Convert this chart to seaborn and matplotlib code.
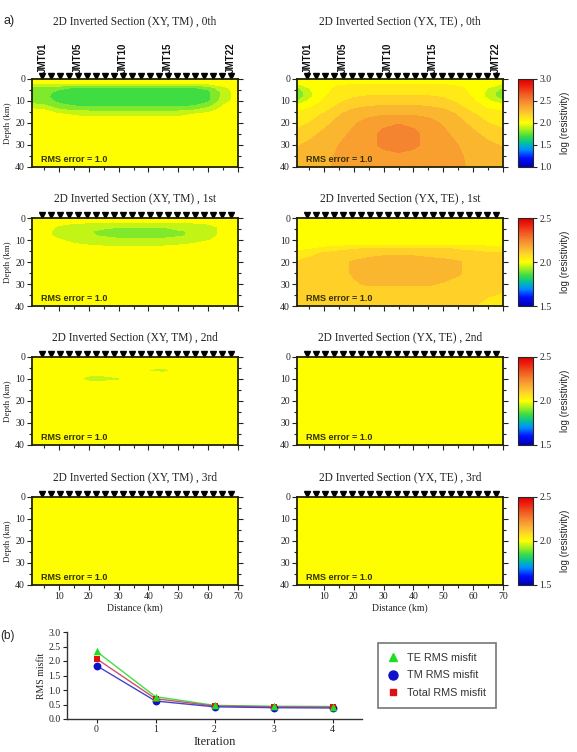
import numpy as np
import matplotlib
matplotlib.use("Agg")
import matplotlib.pyplot as plt
import seaborn as sns
from matplotlib.colors import LinearSegmentedColormap, Normalize
from matplotlib.cm import ScalarMappable
from matplotlib.lines import Line2D

sns.set_style("ticks")
plt.rcParams['font.family'] = ['Liberation Serif', 'DejaVu Serif']
SANS = ['Liberation Sans', 'DejaVu Sans']

# ---------------- data ----------------
dist_km = [1, 5, 10, 15, 20, 25, 30, 35, 40, 45, 50, 55, 60, 65, 70]
depth_km = [0, 2, 4, 6, 8, 10, 12, 14, 16, 20, 25, 30, 35, 40]

stations_km = [4.5, 7.5, 10.5, 13.5, 16.5, 19.5, 22.5, 25.5, 28.5, 31.5, 34.5,
               37.5, 40.5, 43.5, 46.5, 49.5, 52.5, 55.5, 58.5, 61.5, 64.5, 67.5]
station_names = {0: 'JMT01', 4: 'JMT05', 9: 'JMT10', 14: 'JMT15', 21: 'JMT22'}

# log10 resistivity read from the sections (rows = depth_km, cols = dist_km)
tm_0th = [
    [2.0, 2.0, 2.0, 2.0, 2.0, 2.0, 2.0, 2.0, 2.0, 2.0, 2.0, 2.0, 2.0, 2.0, 2.0],
    [1.97, 1.96, 1.96, 1.95, 1.95, 1.95, 1.95, 1.95, 1.95, 1.95, 1.95, 1.96, 1.97, 2.0, 2.0],
    [1.8, 1.8, 1.78, 1.74, 1.72, 1.72, 1.72, 1.72, 1.72, 1.72, 1.72, 1.74, 1.78, 1.92, 2.0],
    [1.78, 1.78, 1.72, 1.68, 1.67, 1.67, 1.67, 1.67, 1.67, 1.67, 1.67, 1.68, 1.72, 1.88, 2.0],
    [1.78, 1.78, 1.7, 1.67, 1.66, 1.66, 1.66, 1.66, 1.66, 1.66, 1.66, 1.67, 1.72, 1.88, 2.0],
    [1.8, 1.8, 1.72, 1.68, 1.67, 1.67, 1.67, 1.67, 1.67, 1.67, 1.67, 1.68, 1.73, 1.9, 2.0],
    [1.88, 1.86, 1.78, 1.74, 1.72, 1.72, 1.72, 1.72, 1.72, 1.72, 1.72, 1.74, 1.8, 1.95, 2.0],
    [1.97, 1.95, 1.86, 1.83, 1.82, 1.82, 1.82, 1.82, 1.82, 1.82, 1.82, 1.84, 1.9, 1.98, 2.0],
    [2.0, 2.0, 1.96, 1.94, 1.93, 1.93, 1.93, 1.93, 1.93, 1.93, 1.93, 1.95, 1.98, 2.0, 2.0],
    [2.0, 2.0, 2.0, 2.0, 2.0, 2.0, 2.0, 2.0, 2.0, 2.0, 2.0, 2.0, 2.0, 2.0, 2.0],
    [2.0, 2.0, 2.0, 2.0, 2.0, 2.0, 2.0, 2.0, 2.0, 2.0, 2.0, 2.0, 2.0, 2.0, 2.0],
    [2.0, 2.0, 2.0, 2.0, 2.0, 2.0, 2.0, 2.0, 2.0, 2.0, 2.0, 2.0, 2.0, 2.0, 2.0],
    [2.0, 2.0, 2.0, 2.0, 2.0, 2.0, 2.0, 2.0, 2.0, 2.0, 2.0, 2.0, 2.0, 2.0, 2.0],
    [2.0, 2.0, 2.0, 2.0, 2.0, 2.0, 2.0, 2.0, 2.0, 2.0, 2.0, 2.0, 2.0, 2.0, 2.0],
]
te_0th = [
    [2.0, 2.0, 2.02, 2.02, 2.02, 2.02, 2.02, 2.02, 2.02, 2.02, 2.02, 2.02, 2.0, 2.0, 2.0],
    [1.95, 2.0, 2.03, 2.04, 2.04, 2.04, 2.04, 2.04, 2.04, 2.04, 2.04, 2.03, 2.02, 1.98, 1.95],
    [1.82, 1.95, 2.03, 2.06, 2.08, 2.08, 2.08, 2.08, 2.08, 2.08, 2.08, 2.06, 2.03, 1.95, 1.84],
    [1.76, 1.92, 2.03, 2.08, 2.11, 2.11, 2.11, 2.11, 2.11, 2.11, 2.11, 2.08, 2.03, 1.92, 1.78],
    [1.76, 1.92, 2.04, 2.1, 2.14, 2.16, 2.16, 2.16, 2.16, 2.16, 2.14, 2.1, 2.04, 1.92, 1.78],
    [1.84, 1.97, 2.06, 2.13, 2.18, 2.2, 2.2, 2.2, 2.2, 2.2, 2.18, 2.13, 2.06, 1.97, 1.86],
    [1.96, 2.02, 2.09, 2.16, 2.22, 2.24, 2.25, 2.25, 2.25, 2.24, 2.22, 2.16, 2.09, 2.02, 1.98],
    [2.03, 2.06, 2.12, 2.2, 2.26, 2.28, 2.29, 2.29, 2.29, 2.28, 2.26, 2.2, 2.12, 2.06, 2.04],
    [2.07, 2.1, 2.16, 2.24, 2.3, 2.33, 2.34, 2.34, 2.34, 2.33, 2.3, 2.24, 2.16, 2.1, 2.07],
    [2.12, 2.15, 2.22, 2.28, 2.34, 2.38, 2.42, 2.44, 2.42, 2.38, 2.34, 2.28, 2.22, 2.15, 2.12],
    [2.18, 2.22, 2.27, 2.32, 2.37, 2.41, 2.48, 2.54, 2.48, 2.41, 2.37, 2.32, 2.27, 2.22, 2.18],
    [2.24, 2.27, 2.31, 2.35, 2.38, 2.42, 2.47, 2.51, 2.47, 2.42, 2.38, 2.35, 2.31, 2.27, 2.24],
    [2.28, 2.3, 2.33, 2.36, 2.38, 2.4, 2.42, 2.42, 2.42, 2.4, 2.38, 2.36, 2.33, 2.3, 2.28],
    [2.3, 2.32, 2.34, 2.36, 2.38, 2.4, 2.4, 2.4, 2.4, 2.4, 2.38, 2.36, 2.34, 2.32, 2.3],
]
tm_1st = [
    [2.0, 2.0, 2.0, 2.0, 2.0, 2.0, 2.0, 2.0, 2.0, 2.0, 2.0, 2.0, 2.0, 2.0, 2.0],
    [2.0, 2.0, 1.99, 1.98, 1.98, 1.98, 1.98, 1.98, 1.98, 1.98, 1.98, 1.98, 1.99, 2.0, 2.0],
    [2.0, 1.99, 1.97, 1.95, 1.94, 1.94, 1.93, 1.93, 1.93, 1.93, 1.94, 1.94, 1.95, 1.99, 2.0],
    [2.0, 1.99, 1.96, 1.94, 1.93, 1.91, 1.88, 1.88, 1.88, 1.88, 1.92, 1.93, 1.95, 1.99, 2.0],
    [2.0, 1.99, 1.96, 1.94, 1.93, 1.92, 1.9, 1.9, 1.9, 1.9, 1.92, 1.93, 1.95, 1.99, 2.0],
    [2.0, 2.0, 1.98, 1.96, 1.95, 1.94, 1.94, 1.94, 1.94, 1.94, 1.94, 1.95, 1.97, 2.0, 2.0],
    [2.0, 2.0, 2.0, 1.98, 1.97, 1.96, 1.96, 1.96, 1.96, 1.96, 1.97, 1.98, 2.0, 2.0, 2.0],
    [2.0, 2.0, 2.0, 2.0, 2.0, 2.0, 2.0, 2.0, 2.0, 2.0, 2.0, 2.0, 2.0, 2.0, 2.0],
    [2.0, 2.0, 2.0, 2.0, 2.0, 2.0, 2.0, 2.0, 2.0, 2.0, 2.0, 2.0, 2.0, 2.0, 2.0],
    [2.0, 2.0, 2.0, 2.0, 2.0, 2.0, 2.0, 2.0, 2.0, 2.0, 2.0, 2.0, 2.0, 2.0, 2.0],
    [2.0, 2.0, 2.0, 2.0, 2.0, 2.0, 2.0, 2.0, 2.0, 2.0, 2.0, 2.0, 2.0, 2.0, 2.0],
    [2.0, 2.0, 2.0, 2.0, 2.0, 2.0, 2.0, 2.0, 2.0, 2.0, 2.0, 2.0, 2.0, 2.0, 2.0],
    [2.0, 2.0, 2.0, 2.0, 2.0, 2.0, 2.0, 2.0, 2.0, 2.0, 2.0, 2.0, 2.0, 2.0, 2.0],
    [2.0, 2.0, 2.0, 2.0, 2.0, 2.0, 2.0, 2.0, 2.0, 2.0, 2.0, 2.0, 2.0, 2.0, 2.0],
]
te_1st = [
    [2.0, 2.0, 2.0, 2.0, 2.0, 2.0, 2.0, 2.0, 2.0, 2.0, 2.0, 2.0, 2.0, 2.0, 2.0],
    [2.0, 2.0, 2.0, 2.0, 2.0, 2.0, 2.0, 2.0, 2.0, 2.0, 2.0, 2.0, 2.0, 2.0, 2.0],
    [2.0, 2.0, 2.0, 2.0, 2.0, 2.0, 2.0, 2.0, 2.0, 2.0, 2.0, 2.0, 2.0, 2.0, 2.0],
    [2.0, 2.0, 2.0, 2.0, 2.0, 2.0, 2.0, 2.0, 2.0, 2.0, 2.0, 2.0, 2.0, 2.0, 2.0],
    [2.0, 2.0, 2.0, 2.0, 2.0, 2.0, 2.0, 2.0, 2.0, 2.0, 2.0, 2.0, 2.0, 2.0, 2.0],
    [2.0, 2.0, 2.0, 2.0, 2.0, 2.0, 2.0, 2.0, 2.0, 2.0, 2.0, 2.0, 2.0, 2.0, 2.0],
    [2.0, 2.0, 2.0, 2.0, 2.01, 2.01, 2.01, 2.01, 2.01, 2.01, 2.01, 2.01, 2.01, 2.01, 2.01],
    [2.01, 2.02, 2.04, 2.06, 2.07, 2.08, 2.08, 2.08, 2.08, 2.08, 2.08, 2.07, 2.06, 2.05, 2.05],
    [2.04, 2.06, 2.08, 2.09, 2.1, 2.1, 2.11, 2.11, 2.11, 2.1, 2.1, 2.09, 2.09, 2.08, 2.08],
    [2.08, 2.09, 2.1, 2.11, 2.13, 2.15, 2.16, 2.16, 2.16, 2.15, 2.14, 2.13, 2.11, 2.09, 2.09],
    [2.09, 2.1, 2.1, 2.11, 2.13, 2.16, 2.17, 2.17, 2.17, 2.16, 2.15, 2.13, 2.11, 2.1, 2.09],
    [2.09, 2.1, 2.1, 2.11, 2.12, 2.13, 2.13, 2.13, 2.13, 2.13, 2.12, 2.11, 2.1, 2.09, 2.09],
    [2.09, 2.09, 2.09, 2.1, 2.1, 2.1, 2.1, 2.1, 2.1, 2.1, 2.1, 2.09, 2.09, 2.08, 2.07],
    [2.09, 2.09, 2.09, 2.09, 2.09, 2.09, 2.09, 2.09, 2.09, 2.09, 2.09, 2.08, 2.08, 2.05, 2.03],
]
tm_2nd = [
    [2.0, 2.0, 2.0, 2.0, 2.0, 2.0, 2.0, 2.0, 2.0, 2.0, 2.0, 2.0, 2.0, 2.0, 2.0],
    [2.0, 2.0, 2.0, 2.0, 2.0, 2.0, 2.0, 2.0, 2.0, 2.0, 2.0, 2.0, 2.0, 2.0, 2.0],
    [2.0, 2.0, 2.0, 2.0, 2.0, 2.0, 2.0, 2.0, 2.0, 2.0, 2.0, 2.0, 2.0, 2.0, 2.0],
    [2.0, 2.0, 2.0, 2.0, 2.0, 2.0, 2.0, 2.0, 1.97, 1.95, 2.0, 2.0, 2.0, 2.0, 2.0],
    [2.0, 2.0, 2.0, 2.0, 1.985, 1.985, 2.0, 2.0, 2.0, 2.0, 2.0, 2.0, 2.0, 2.0, 2.0],
    [2.0, 2.0, 2.0, 2.0, 1.95, 1.95, 1.965, 2.0, 2.0, 2.0, 2.0, 2.0, 2.0, 2.0, 2.0],
    [2.0, 2.0, 2.0, 2.0, 2.0, 2.0, 2.0, 2.0, 2.0, 2.0, 2.0, 2.0, 2.0, 2.0, 2.0],
    [2.0, 2.0, 2.0, 2.0, 2.0, 2.0, 2.0, 2.0, 2.0, 2.0, 2.0, 2.0, 2.0, 2.0, 2.0],
    [2.0, 2.0, 2.0, 2.0, 2.0, 2.0, 2.0, 2.0, 2.0, 2.0, 2.0, 2.0, 2.0, 2.0, 2.0],
    [2.0, 2.0, 2.0, 2.0, 2.0, 2.0, 2.0, 2.0, 2.0, 2.0, 2.0, 2.0, 2.0, 2.0, 2.0],
    [2.0, 2.0, 2.0, 2.0, 2.0, 2.0, 2.0, 2.0, 2.0, 2.0, 2.0, 2.0, 2.0, 2.0, 2.0],
    [2.0, 2.0, 2.0, 2.0, 2.0, 2.0, 2.0, 2.0, 2.0, 2.0, 2.0, 2.0, 2.0, 2.0, 2.0],
    [2.0, 2.0, 2.0, 2.0, 2.0, 2.0, 2.0, 2.0, 2.0, 2.0, 2.0, 2.0, 2.0, 2.0, 2.0],
    [2.0, 2.0, 2.0, 2.0, 2.0, 2.0, 2.0, 2.0, 2.0, 2.0, 2.0, 2.0, 2.0, 2.0, 2.0],
]
background_log_rho = 2.0   # the later sections are flat

iteration = [0, 1, 2, 3, 4]
te_misfit = [2.33, 0.77, 0.47, 0.44, 0.43]
tm_misfit = [1.84, 0.62, 0.42, 0.39, 0.38]
total_misfit = [2.08, 0.70, 0.45, 0.42, 0.41]

iter_names = ['0th', '1st', '2nd', '3rd']
color_ranges = [(1.0, 3.0, 0.1), (1.5, 2.5, 0.05), (1.5, 2.5, 0.05), (1.5, 2.5, 0.05)]
cbar_ticks = [[1.0, 1.5, 2.0, 2.5, 3.0], [1.5, 2.0, 2.5], [1.5, 2.0, 2.5], [1.5, 2.0, 2.5]]

# ---------------- style ----------------
rho_cmap = LinearSegmentedColormap.from_list('rho', [
    (0.0, '#0000b0'), (0.1, '#0010ff'), (0.2, '#0090ff'), (0.27, '#00c0a0'),
    (0.35, '#40dd40'), (0.43, '#a8f020'), (0.5, '#ffff00'), (0.57, '#ffe020'),
    (0.63, '#fcc030'), (0.7, '#f8a030'), (0.76, '#f48030'), (0.83, '#f05a20'),
    (0.92, '#f02010'), (1.0, '#d80000')])

W, H = 577, 752
fig = plt.figure(figsize=(W / 100, H / 100), dpi=100)


def px_rect(x0, y0, w, h):
    return [x0 / W, 1 - (y0 + h) / H, w / W, h / H]


row_tops = [79, 218, 357, 497]
row_h = 88
col_left = [32, 297]
col_w = 206


def draw_section(ax, grid, vmin, vmax, step, title, title_off, first_row, last_row, left):
    norm = Normalize(vmin, vmax)
    levels = np.arange(vmin - step / 2, vmax + step, step)
    ax.contourf(dist_km, depth_km, np.asarray(grid, dtype=float), levels=levels,
                cmap=rho_cmap, norm=norm, extend='both')
    ax.set_xlim(1, 70)
    ax.set_ylim(40, 0)
    ax.set_xticks([10, 20, 30, 40, 50, 60, 70])
    ax.set_xticks([5, 15, 25, 35, 45, 55, 65], minor=True)
    ax.set_yticks([0, 10, 20, 30, 40])
    ax.set_yticks([5, 15, 25, 35], minor=True)
    ax.tick_params(which='both', direction='out', right=True, top=False,
                   labelsize=7, width=0.8, colors='#222222', pad=1.5)
    ax.tick_params(which='major', length=3.5)
    ax.tick_params(which='minor', length=2.2)
    ax.tick_params(labelbottom=last_row)
    for s in ax.spines.values():
        s.set_linewidth(1.3)
        s.set_color('#222200')
    if last_row:
        ax.set_xlabel('Distance (km)', fontsize=7, labelpad=2, color='#222222')
    if left:
        ax.set_ylabel('Depth (km)', fontsize=6.5, labelpad=2, color='#222222')
    ax.text(0.5, 1 + title_off / row_h, title, transform=ax.transAxes,
            ha='center', va='center', fontsize=8.3, color='#222222')
    ax.plot(stations_km, [-1.3] * len(stations_km), ls='none', marker='v',
            color='black', markersize=4.3, clip_on=False)
    if first_row:
        for i, name in station_names.items():
            ax.text(stations_km[i], -2.8, name, rotation=90, ha='center', va='bottom',
                    family=SANS, weight='bold', fontsize=7, color='#111111',
                    clip_on=False)
    ax.text(0.045, 0.09, 'RMS error = 1.0', transform=ax.transAxes, va='center',
            family=SANS, weight='bold', fontsize=6.5, color='#333300')


flat = np.full((len(depth_km), len(dist_km)), background_log_rho)
tm_grids = [tm_0th, tm_1st, tm_2nd, flat]
te_grids = [te_0th, te_1st, flat, flat]

for r in range(4):
    vmin, vmax, step = color_ranges[r]
    toff = 58 if r == 0 else 20
    axl = fig.add_axes(px_rect(col_left[0], row_tops[r], col_w, row_h))
    draw_section(axl, tm_grids[r], vmin, vmax, step,
                 f'2D Inverted Section (XY, TM) , {iter_names[r]}', toff,
                 r == 0, r == 3, True)
    axr = fig.add_axes(px_rect(col_left[1], row_tops[r], col_w, row_h))
    draw_section(axr, te_grids[r], vmin, vmax, step,
                 f'2D Inverted Section (YX, TE) , {iter_names[r]}', toff,
                 r == 0, r == 3, False)
    cax = fig.add_axes(px_rect(518, row_tops[r], 15, row_h))
    cb = fig.colorbar(ScalarMappable(Normalize(vmin, vmax), rho_cmap), cax=cax)
    cb.set_ticks(cbar_ticks[r])
    cb.ax.tick_params(direction='out', labelsize=7, length=3, width=0.8, pad=1.5)
    cb.outline.set_linewidth(0.8)
    cb.set_label('log (resistivity)', family=SANS, fontsize=7, labelpad=6)

fig.text(3 / W, 1 - 21 / H, 'a)', family=SANS, fontsize=9, va='center')
fig.text(0 / W, 1 - 636 / H, '(b)', family=SANS, fontsize=8.5, va='center')

# ---------------- (b) misfit curves ----------------
axb = fig.add_axes(px_rect(67, 632, 295, 87))
green, blue, red = '#22dd22', '#1010cc', '#dd1111'
sns.lineplot(x=iteration, y=te_misfit, color='#44dd44', lw=1, ax=axb)
sns.lineplot(x=iteration, y=total_misfit, color='#cc5566', lw=1, ax=axb)
sns.lineplot(x=iteration, y=tm_misfit, color='#4444cc', lw=1, ax=axb)
sns.scatterplot(x=iteration, y=tm_misfit, marker='o', s=32, color=blue, linewidth=0, ax=axb, zorder=3)
sns.scatterplot(x=iteration, y=total_misfit, marker='s', s=22, color=red, linewidth=0, ax=axb, zorder=3)
sns.scatterplot(x=iteration, y=te_misfit, marker='^', s=30, color=green, linewidth=0, ax=axb, zorder=4)
axb.set_xlim(-0.5, 4.5)
axb.set_ylim(0, 3)
axb.set_xticks(iteration)
axb.set_yticks([0.0, 0.5, 1.0, 1.5, 2.0, 2.5, 3.0])
axb.set_yticklabels(['0.0', '0.5', '1.0', '1.5', '2.0', '2.5', '3.0'])
sns.despine(ax=axb)
axb.tick_params(direction='out', labelsize=7, length=3, width=0.8, colors='#222222', pad=1.5)
for s in axb.spines.values():
    s.set_linewidth(1.0)
    s.set_color('#333333')
axb.set_xlabel('Iteration', fontsize=9, labelpad=1, color='#222222')
axb.set_ylabel('RMS misfit', fontsize=7, labelpad=2, color='#222222')

handles = [Line2D([], [], ls='none', marker='^', color=green, markersize=6),
           Line2D([], [], ls='none', marker='o', color=blue, markersize=6.5),
           Line2D([], [], ls='none', marker='s', color=red, markersize=5)]
leg = fig.legend(handles, ['TE RMS misfit', 'TM RMS misfit', 'Total RMS misfit'],
                 loc='upper left', bbox_to_anchor=(378 / W, 1 - 643 / H), borderaxespad=0,
                 frameon=True, fancybox=False, edgecolor='#555555',
                 prop={'family': SANS, 'size': 7.8}, labelspacing=0.7, borderpad=0.9,
                 handlelength=1.0, handletextpad=0.8)
leg.get_frame().set_linewidth(1.2)
for t in leg.get_texts():
    t.set_color('#333333')

fig.savefig('out.png', dpi=100)
